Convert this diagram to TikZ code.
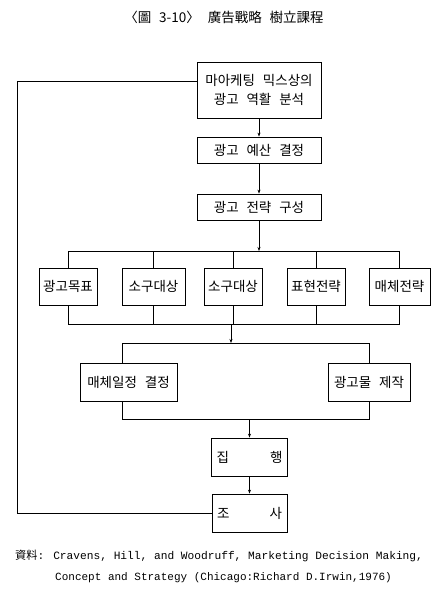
\documentclass[tikz,border=0pt]{standalone}
\usepackage{fontspec}
\usepackage{tikz}
\usetikzlibrary{arrows.meta,positioning,calc}
\newfontfamily\kofont[WordSpace=2.6]{Noto Sans CJK KR}
\newfontfamily\srcfont{Liberation Mono}
\begin{document}
\begin{tikzpicture}[
  x=1pt, y=-1pt,
  stagebox/.style={rectangle, draw, line width=0.8pt, inner sep=0pt,
                   font=\kofont\fontsize{13.5}{19}\selectfont, align=center},
  flow/.style={-{Stealth[length=4pt,width=3pt]}, line width=0.7pt},
  link/.style={line width=0.7pt},
]
  \useasboundingbox[fill=white] (0,0) rectangle (442,610);

  \node[font=\kofont\fontsize{13.5}{15}\selectfont] (title) at (224,17) {〈圖 3-10〉 廣告戰略 樹立課程};

  % main column
  \node[stagebox, minimum width=124, minimum height=56] (mix) at (259,90) {마아케팅 믹스상의\\광고 역활 분석};
  \node[stagebox, minimum width=124, minimum height=26] (budget) at (259,150) {광고 예산 결정};
  \node[stagebox, minimum width=124, minimum height=26] (plan) at (259,207) {광고 전략 구성};

  % strategy elements
  \node[stagebox, minimum width=58, minimum height=37] (goal) at (68,286.5) {광고목표};
  \node[stagebox, minimum width=63, minimum height=37] (appA) at (153.5,286.5) {소구대상};
  \node[stagebox, minimum width=58, minimum height=37] (appB) at (233,286.5) {소구대상};
  \node[stagebox, minimum width=58, minimum height=37] (expr) at (316,286.5) {표현전략};
  \node[stagebox, minimum width=61, minimum height=37] (media) at (399.5,286.5) {매체전략};

  \node[stagebox, minimum width=97, minimum height=38] (sched) at (128.5,382) {매체일정 결정};
  \node[stagebox, minimum width=82, minimum height=38] (make) at (369,382) {광고물 제작};

  \node[stagebox, text width=66, minimum width=76, minimum height=38, align=left] (exec) at (249.5,457) {집\hfill 행};
  \node[stagebox, text width=65, minimum width=75, minimum height=38, align=left] (survey) at (249.5,513) {조\hfill 사};

  \coordinate (topbus) at (259,251);
  \coordinate (lowbus) at (231,324);
  \coordinate (joinL) at (122,343);
  \coordinate (joinR) at (369,343);
  \coordinate (mergeL) at (122,419);
  \coordinate (back) at (17,81);

  \draw[flow] (mix) -- (budget);
  \draw[flow] (budget) -- (plan);
  \draw[flow] (plan) -- (topbus);
  \draw[link] (topbus -| goal) -- (topbus -| media);
  \foreach \el in {goal,appA,appB,expr,media}{
    \draw[link] (topbus -| \el) -- (\el.north);
    \draw[link] (\el.south) -- (lowbus -| \el);
  }
  \draw[link] (lowbus -| goal) -- (lowbus -| media);
  \draw[flow] (lowbus) -- (lowbus |- joinL);
  \draw[link] (sched.north -| joinL) |- (joinR) -- (make.north);
  \draw[link] (sched.south -| mergeL) |- (mergeL -| make) -- (make.south);
  \draw[flow] (mergeL -| exec) -- (exec);
  \draw[flow] (exec) -- (survey);
  \draw[link] (survey.west) -| (back) -- (back -| mix.west);

  % source note
  \node[anchor=base west, font=\srcfont\fontsize{11.2}{13}\selectfont, inner sep=0pt] (src1) at (15,559) {{\kofont 資料}: Cravens, Hill, and Woodruff, Marketing Decision Making,};
  \node[anchor=base west, font=\srcfont\fontsize{11}{13}\selectfont, inner sep=0pt] (src2) at (55,580) {Concept and Strategy (Chicago:Richard D.Irwin,1976)};
\end{tikzpicture}
\end{document}
